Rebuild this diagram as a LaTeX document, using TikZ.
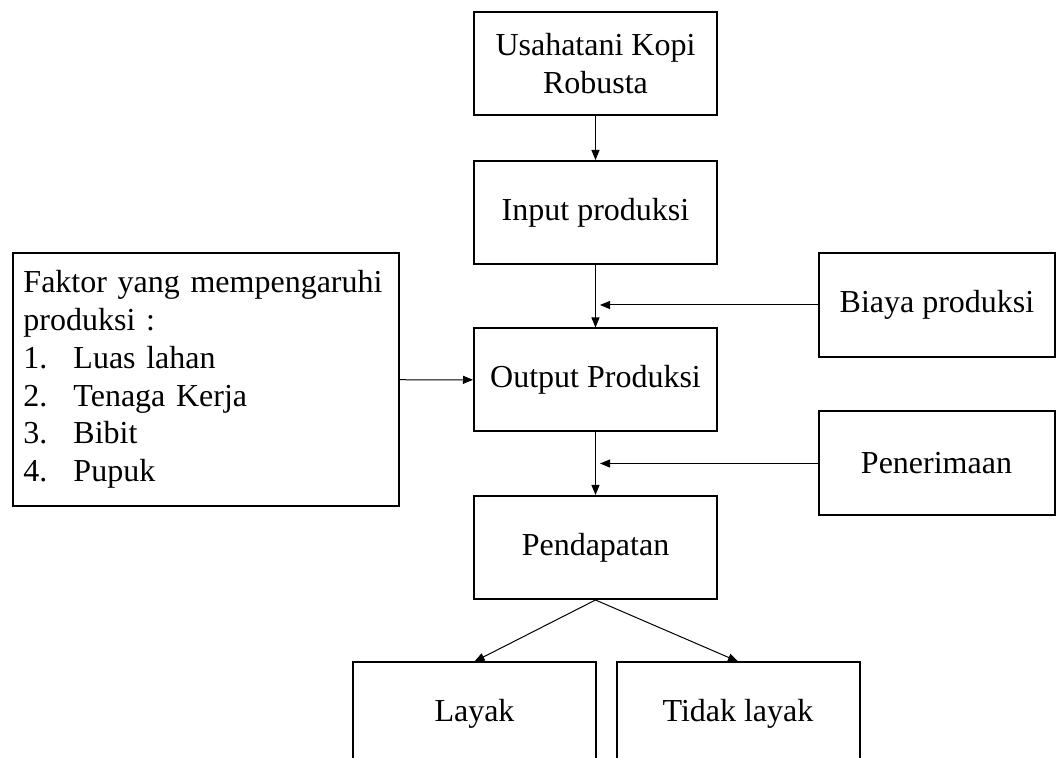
\documentclass[tikz,border=0pt]{standalone}
\usepackage{fontspec}
\setmainfont{Liberation Serif}
\usepackage{tikz}
\usetikzlibrary{arrows.meta}

\newcommand{\itemno}[1]{\makebox[25pt][l]{#1}}

\begin{document}
\begin{tikzpicture}[x=0.5pt, y=-0.5pt,
	box/.style={shape=rectangle, draw=black, line width=1pt, inner sep=0pt,
		minimum width=121.5pt, minimum height=51.5pt,
		font=\fontsize{16pt}{18.85pt}\selectfont},
	sidebox/.style={box, minimum width=118pt, minimum height=52pt},
	factbox/.style={box, text width=182.5pt, align=left,
		minimum width=193pt, minimum height=126.5pt},
	arr/.style={-{Triangle[length=5pt,width=4pt]}, line width=0.5pt}]
	
	\path[use as bounding box, clip] (0, 0) rectangle (1057, 758);
	\fill[white] (0, 0) rectangle (1057, 758);
	
	\node[box, align=center] (usaha) at (595.5, 63.5)  {Usahatani Kopi\\Robusta};
	\node[box] (input)      at (595.5, 212.5) {Input produksi};
	\node[box] (output)     at (595.5, 380)   {Output Produksi};
	\node[box] (pendapatan) at (595.5, 547.5) {Pendapatan};
	\node[box] (layak)      at (474.5, 714)   {Layak};
	\node[box] (tidak)      at (738, 714)     {Tidak layak};
	\node[sidebox] (biaya)  at (937, 305)     {Biaya produksi};
	\node[sidebox] (terima) at (936.5, 463.5) {Penerimaan};
	\node[factbox] (faktor) at (206, 379.5)   {\makebox[182.5pt][s]{Faktor yang mempengaruhi}\\
		produksi :\\
		\itemno{1.}Luas lahan\\
		\itemno{2.}Tenaga Kerja\\
		\itemno{3.}Bibit\\
		\itemno{4.}Pupuk};
	
	\coordinate (jb) at (600, 305);
	\coordinate (jt) at (600, 463.5);
	
	\path[arr] (usaha) edge (input);
	\path[arr] (input) edge (output);
	\path[arr] (output) edge (pendapatan);
	\path[arr] (faktor) edge (output);
	\path[arr] (biaya) edge (jb);
	\path[arr] (terima) edge (jt);
	\path[arr] (pendapatan.south) edge (layak.north);
	\path[arr] (pendapatan.south) edge (tidak.north);

\end{tikzpicture}
\end{document}
